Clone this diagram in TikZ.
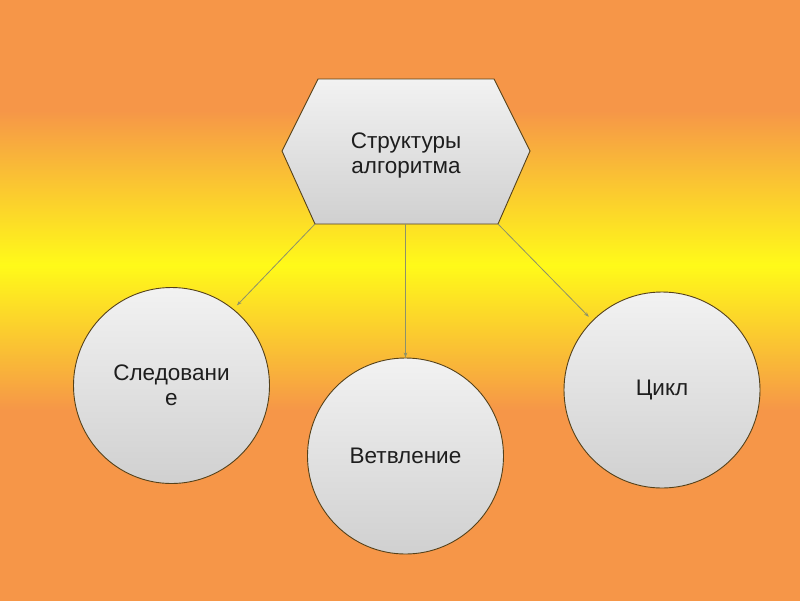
\documentclass[tikz,border=0pt]{standalone}
\usepackage{fontspec}
\setmainfont{Liberation Sans}
\usetikzlibrary{arrows.meta}
\definecolor{bgorange}{RGB}{246,150,72}
\definecolor{bgyellow}{RGB}{255,250,25}
\definecolor{shapeedge}{RGB}{85,65,25}
\definecolor{conncol}{RGB}{140,145,105}
\definecolor{filltop}{RGB}{242,242,242}
\definecolor{fillbot}{RGB}{208,208,208}
\definecolor{txt}{RGB}{30,30,30}
\pgfdeclareverticalshading{bgshade}{100bp}{color(0bp)=(bgorange); color(25bp)=(bgorange); color(40.8bp)=(bgorange); color(52.9bp)=(bgyellow); color(65.8bp)=(bgorange); color(75bp)=(bgorange); color(100bp)=(bgorange)}
\tikzset{
  blob/.style={circle, minimum size=196pt, inner sep=0pt, draw=shapeedge, line width=0.9pt,
    top color=filltop, bottom color=fillbot, text=txt, font=\fontsize{22.5}{25}\selectfont, align=center},
  label/.style={text=txt, font=\fontsize{22.5}{25}\selectfont, align=center},
  conn/.style={draw=conncol, line width=0.8pt, -{Stealth[length=5pt,width=3.5pt]}},
}
\begin{document}
\begin{tikzpicture}[x=1pt,y=-1pt]
\useasboundingbox (0,0) rectangle (800,600);
\shade[shading=bgshade] (0,0) rectangle (800,600);
% hexagon
\coordinate (htl) at (318,79);
\coordinate (htr) at (494,79);
\coordinate (hr) at (530,151);
\coordinate (hbr) at (498,224);
\coordinate (hbl) at (315,224);
\coordinate (hl) at (282,151);
\coordinate (hb) at (405.5,224);
\shade[top color=filltop, bottom color=fillbot, draw=shapeedge, line width=0.9pt]
  (htl) -- (htr) -- (hr) -- (hbr) -- (hbl) -- (hl) -- cycle;
\node[label] (hex) at (406,155) {Структуры\\алгоритма};
% circles
\node[blob] (left) at (171.5,385.5) {Следовани\\е};
\node[blob] (mid) at (405.5,456) {Ветвление};
\node[blob] (right) at (662,390) {Цикл};
% connectors
\draw[conn, shorten >=5pt] (hbl) -- (left.51);
\draw[conn] (hb) -- (mid.north);
\draw[conn, shorten >=5pt] (hbr) -- (right.135);
\end{tikzpicture}
\end{document}
